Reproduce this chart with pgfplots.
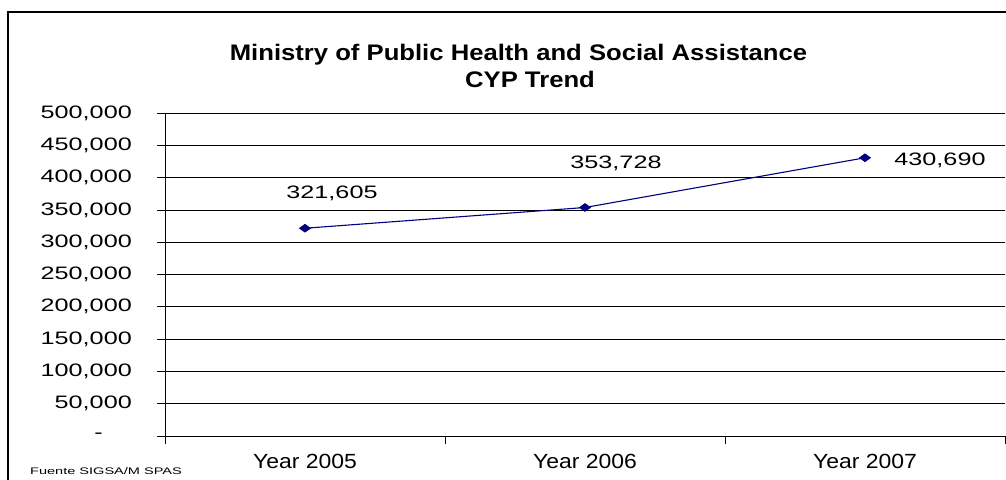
\documentclass[border=0pt]{standalone}
\usepackage{fontspec}
\setmainfont{Liberation Sans}
\newfontfamily\wfont[FakeStretch=1.4]{Liberation Sans}
\newfontfamily\mfont[FakeStretch=1.12]{Liberation Sans}
\newfontfamily\tfont[FakeStretch=1.14]{Liberation Sans}
\newfontfamily\ffont[FakeStretch=1.53]{Liberation Sans}
\usepackage{pgfplots}
\usepackage{pgfplotstable}
\pgfplotsset{compat=1.18}
\definecolor{navy}{RGB}{0,0,128}

\pgfplotstableread{
x y dx dy lab
0 321605 27 30 321,605
1 353728 31 39 353,728
2 430690 75 -8 430,690
}\cyp

\begin{document}
\begin{tikzpicture}
\begin{axis}[
    at={(165bp,44bp)}, anchor=south west,
    scale only axis,
    width=840bp, height=323bp,
    xmin=-0.5, xmax=2.5,
    ymin=0, ymax=500000,
    scaled y ticks=false,
    axis x line=bottom, axis y line=left,
    axis line style={-, black, line width=0.8bp},
    tick align=outside,
    major tick length=8bp,
    xtick={-0.5,0.5,1.5,2.5}, xticklabels={},
    extra x ticks={0,1,2},
    extra x tick labels={Year 2005,Year 2006,Year 2007},
    extra x tick style={major tick length=0pt},
    xticklabel style={font=\mfont\fontsize{20.5bp}{22bp}\selectfont, anchor=base, yshift=-32bp},
    ytick={0,50000,...,500000},
    yticklabels={\mbox{-\kern29bp},{50,000},{100,000},{150,000},{200,000},{250,000},{300,000},{350,000},{400,000},{450,000},{500,000}},
    yticklabel style={font=\wfont\fontsize{18bp}{20bp}\selectfont, anchor=east, inner sep=0pt, xshift=-25bp},
    ymajorgrids,
    major grid style={black, line width=0.7bp},
    tick style={black, line width=0.7bp},
    clip=false,
]
\addplot[navy, line width=1.1bp, mark=diamond*, mark size=4.6bp,
    mark options={fill=navy, draw=navy, xscale=1.5, yscale=0.8},
    nodes near coords, point meta=explicit symbolic,
    visualization depends on={\thisrow{dx}\as\dx},
    visualization depends on={\thisrow{dy}\as\dy},
    every node near coord/.append style={black, anchor=base, inner sep=0pt,
        xshift=\dx*1bp, yshift=\dy*1bp,
        font=\wfont\fontsize{18bp}{20bp}\selectfont}]
    table[x=x, y=y, meta=lab] {\cyp};
\end{axis}
\draw[line width=1.6bp] (8bp,-2bp) -- (8bp,468bp) -- (1010bp,468bp);
\node[anchor=base, inner sep=0pt, font=\tfont\bfseries\fontsize{22.5bp}{24bp}\selectfont] at (518.5bp,419bp) {Ministry of Public Health and Social Assistance};
\node[anchor=base, inner sep=0pt, font=\tfont\bfseries\fontsize{22.5bp}{24bp}\selectfont] at (530bp,392bp) {CYP Trend};
\node[anchor=base west, inner sep=0pt, font=\ffont\fontsize{9.5bp}{10bp}\selectfont] at (30bp,6bp) {Fuente SIGSA/M SPAS};
\pgfresetboundingbox
\useasboundingbox (0,0) rectangle (1006bp,480bp);
\end{tikzpicture}
\end{document}
